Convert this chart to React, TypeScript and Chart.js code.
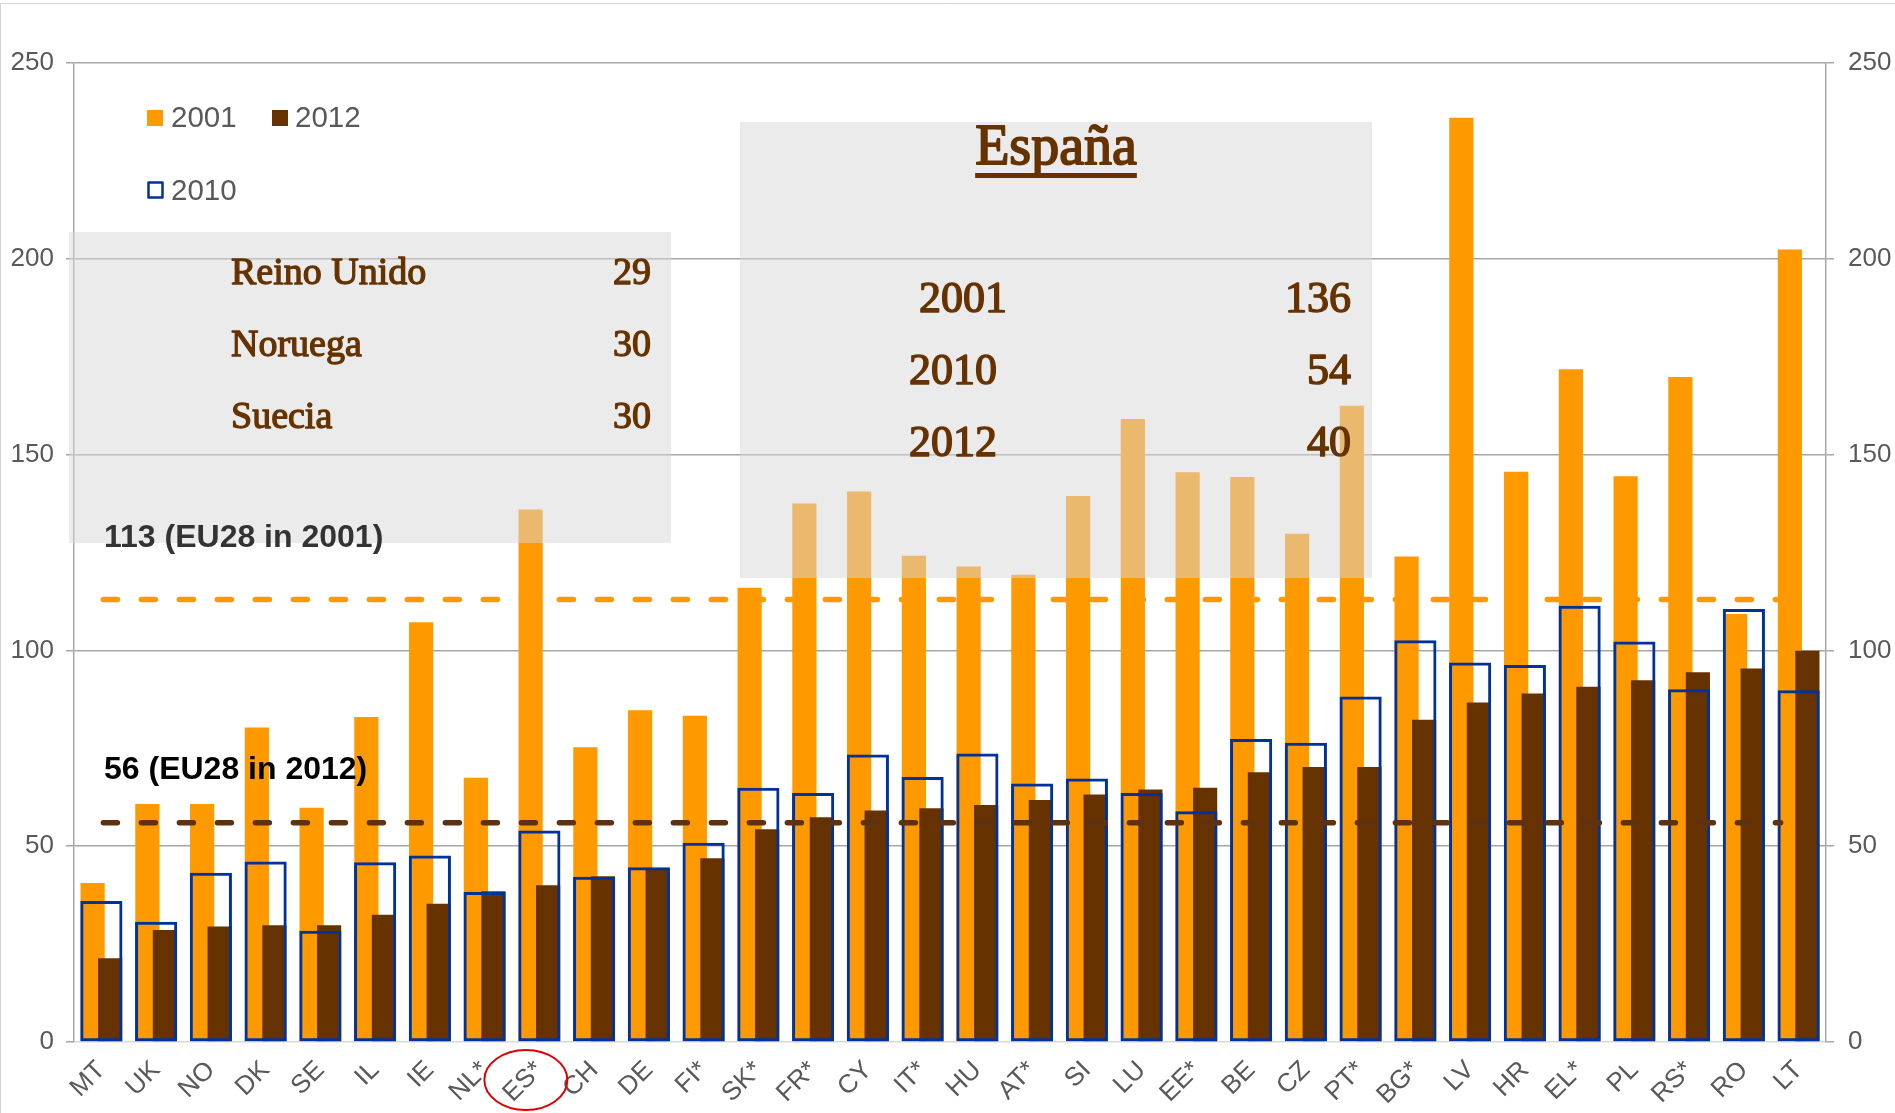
import React, { useEffect, useRef } from 'react';
import { Chart, registerables } from 'chart.js';

Chart.register(...registerables);

const categories = ['MT', 'UK', 'NO', 'DK', 'SE', 'IL', 'IE', 'NL*', 'ES*', 'CH', 'DE', 'FI*', 'SK*', 'FR*', 'CY', 'IT*', 'HU', 'AT*', 'SI', 'LU', 'EE*', 'BE', 'CZ', 'PT*', 'BG*', 'LV', 'HR', 'EL*', 'PL', 'RS*', 'RO', 'LT'];
const values2001 = [40.6, 60.8, 60.8, 80.3, 59.8, 83.0, 107.2, 67.5, 136, 75.3, 84.7, 83.3, 116.0, 137.5, 140.6, 124.2, 121.4, 119.3, 139.4, 159.1, 145.5, 144.3, 129.8, 162.5, 124.0, 236.0, 145.6, 171.8, 144.5, 169.8, 109.3, 202.4];
const values2010 = [36.0, 30.7, 43.2, 46.1, 28.4, 45.9, 47.6, 38.3, 54, 42.2, 44.6, 50.9, 64.9, 63.6, 73.4, 67.7, 73.7, 66.0, 67.3, 63.6, 58.9, 77.4, 76.4, 88.2, 102.6, 96.9, 96.3, 111.4, 102.3, 90.1, 110.6, 89.8];
const values2012 = [21.4, 28.6, 29.5, 29.8, 29.8, 32.5, 35.3, 38.5, 40, 42.3, 44.0, 46.9, 54.3, 57.4, 59.1, 59.7, 60.5, 61.8, 63.2, 64.5, 64.9, 68.9, 70.2, 70.2, 82.3, 86.7, 89.0, 90.7, 92.4, 94.4, 95.4, 99.9];
const eu2001 = 113;
const eu2012 = 56;
const yTicks = [0, 50, 100, 150, 200, 250];
const lowestRows = [
  ['Reino Unido', '29'],
  ['Noruega', '30'],
  ['Suecia', '30'],
];
const spainRows = [
  ['2001', '136'],
  ['2010', '54'],
  ['2012', '40'],
];
const highlighted = 'ES*';

const SANS = "'Liberation Sans', Arial, sans-serif";
const SERIF = "'Liberation Serif', 'Times New Roman', serif";
const ORANGE = '#FF9900';
const BROWN = '#663300';
const BLUE = '#003399';
const GREY_TEXT = '#595959';
const BOX = 'rgba(216,216,216,0.51)';

function text(ctx: CanvasRenderingContext2D, s: string, x: number, y: number, font: string, color: string, align: CanvasTextAlign = 'left', thicken = 0) {
  ctx.font = font;
  ctx.fillStyle = color;
  ctx.textAlign = align;
  ctx.textBaseline = 'alphabetic';
  ctx.fillText(s, x, y);
  if (thicken > 0) {
    ctx.strokeStyle = color;
    ctx.lineWidth = thicken;
    ctx.lineJoin = 'round';
    ctx.strokeText(s, x, y);
  }
}

function drawAnnotations(chart: any) {
  const ctx: CanvasRenderingContext2D = chart.ctx;
  const xs = chart.scales.x;
  const ys = chart.scales.y;
  ctx.save();

  // EU28 dashed reference lines
  const x0 = xs.getPixelForValue(0) + 2;
  const x1 = xs.getPixelForValue(categories.length - 1) - 18;
  const dash = (v: number, color: string) => {
    const y = ys.getPixelForValue(v);
    ctx.beginPath();
    ctx.setLineDash([14, 24]);
    ctx.lineCap = 'round';
    ctx.lineWidth = 5.5;
    ctx.strokeStyle = color;
    ctx.moveTo(x0, y);
    ctx.lineTo(x1, y);
    ctx.stroke();
  };
  dash(eu2001, ORANGE);
  dash(eu2012, '#5E3210');
  ctx.setLineDash([]);
  ctx.lineCap = 'butt';

  // grey boxes
  ctx.fillStyle = BOX;
  ctx.fillRect(69, 232, 602, 311);
  ctx.fillRect(740, 122, 632, 456);

  // box 1 texts
  lowestRows.forEach(([name, val], i) => {
    const by = 284 + i * 72;
    text(ctx, name, 231, by, `38px ${SERIF}`, BROWN, 'left', 1.3);
    text(ctx, val, 651, by, `38px ${SERIF}`, BROWN, 'right', 1.3);
  });

  // box 2 texts
  const title = 'España';
  text(ctx, title, 1056, 164, `56px ${SERIF}`, BROWN, 'center', 1.8);
  ctx.font = `56px ${SERIF}`;
  const tw = ctx.measureText(title).width;
  ctx.fillStyle = BROWN;
  ctx.fillRect(1056 - tw / 2, 173, tw, 5);
  spainRows.forEach(([yr, val], i) => {
    const by = 312 + i * 72;
    text(ctx, yr, i === 0 ? 919 : 909, by, `44px ${SERIF}`, BROWN, 'left', 1.5);
    text(ctx, val, 1351, by, `44px ${SERIF}`, BROWN, 'right', 1.5);
  });

  // EU28 labels
  text(ctx, `${eu2001} (EU28 in 2001)`, 104, 547, `bold 32px ${SANS}`, '#333333', 'left');
  text(ctx, `${eu2012} (EU28 in 2012)`, 104, 779, `bold 32px ${SANS}`, '#000000', 'left');

  // legend
  ctx.fillStyle = ORANGE;
  ctx.fillRect(147, 110, 16, 16);
  text(ctx, '2001', 171, 127, `29.5px ${SANS}`, GREY_TEXT, 'left');
  ctx.fillStyle = BROWN;
  ctx.fillRect(272, 110, 16, 16);
  text(ctx, '2012', 295, 127, `29.5px ${SANS}`, GREY_TEXT, 'left');
  ctx.strokeStyle = BLUE;
  ctx.lineWidth = 2.5;
  ctx.strokeRect(148.5, 182.5, 14, 15);
  text(ctx, '2010', 171, 200, `29.5px ${SANS}`, GREY_TEXT, 'left');

  // red ellipse around highlighted label
  const ex = xs.getPixelForValue(categories.indexOf(highlighted)) - 13.5;
  ctx.beginPath();
  ctx.ellipse(ex, 1080, 41.5, 30, 0, 0, Math.PI * 2);
  ctx.strokeStyle = '#E00000';
  ctx.lineWidth = 2;
  ctx.stroke();

  // frame
  ctx.strokeStyle = '#D4D4D4';
  ctx.lineWidth = 1;
  ctx.beginPath();
  ctx.moveTo(0, 3.5);
  ctx.lineTo(chart.width, 3.5);
  ctx.moveTo(0.5, 3.5);
  ctx.lineTo(0.5, chart.height);
  ctx.stroke();

  ctx.restore();
}

const layerPlugin = {
  id: 'layerPlugin',
  beforeDatasetsDraw(chart: any) {
    [0, 1, 2].forEach((i) => {
      const meta = chart.getDatasetMeta(i);
      if (meta.visible) meta.controller.draw();
    });
    drawAnnotations(chart);
    return false;
  },
};

export default function App() {
  const ref = useRef<HTMLCanvasElement | null>(null);

  useEffect(() => {
    if (!ref.current) return;
    const axisTicks = { color: GREY_TEXT, font: { family: SANS, size: 26 } };
    const chart = new Chart(ref.current, {
      type: 'bar',
      data: {
        labels: categories,
        datasets: [
          {
            label: '2001',
            data: values2001,
            backgroundColor: ORANGE,
            borderWidth: 0,
            barPercentage: 1.38,
            categoryPercentage: 0.64,
          },
          {
            label: '2012',
            data: values2012,
            backgroundColor: BROWN,
            borderWidth: 0,
            barPercentage: 1.38,
            categoryPercentage: 0.64,
          },
          {
            label: '2010',
            data: values2010,
            backgroundColor: 'rgba(0,0,0,0)',
            borderColor: BLUE,
            borderWidth: 3,
            borderSkipped: false,
            grouped: false,
            barPercentage: 0.77,
            categoryPercentage: 1,
          },
        ] as any,
      },
      options: {
        animation: false,
        responsive: false,
        maintainAspectRatio: false,
        events: [],
        layout: { padding: { top: 63, left: 0, right: 0, bottom: 0 } },
        plugins: { legend: { display: false }, tooltip: { enabled: false } },
        scales: {
          x: {
            type: 'category',
            offset: true,
            grid: { display: false },
            border: { display: false },
            ticks: { ...axisTicks, maxRotation: 45, minRotation: 45, padding: 5, autoSkip: false },
            afterFit: (s: any) => { s.height = 71; },
          },
          y: {
            position: 'left',
            min: 0,
            max: 250,
            afterBuildTicks: (s: any) => { s.ticks = yTicks.map((v) => ({ value: v })); },
            ticks: { ...axisTicks, padding: 12 },
            grid: {
              color: (c: any) => (c.tick && c.tick.value === 0 ? '#D9D9D9' : '#A6A6A6'),
              lineWidth: 1.5,
              tickLength: 8,
              tickColor: '#A6A6A6',
            },
            border: { display: true, color: '#A6A6A6', width: 1.5 },
            afterFit: (s: any) => { s.width = 74; },
          },
          y2: {
            position: 'right',
            min: 0,
            max: 250,
            afterBuildTicks: (s: any) => { s.ticks = yTicks.map((v) => ({ value: v })); },
            ticks: { ...axisTicks, padding: 14 },
            grid: { drawOnChartArea: false, tickLength: 8, color: '#A6A6A6', lineWidth: 1.5 },
            border: { display: true, color: '#A6A6A6', width: 1.5 },
            afterFit: (s: any) => { s.width = 69; },
          },
        } as any,
      },
      plugins: [layerPlugin],
    } as any);
    return () => chart.destroy();
  }, []);

  return (
    <div style={{ position: 'absolute', left: 0, top: 0, width: 1895, height: 1113, background: '#ffffff', overflow: 'hidden' }}>
      <canvas ref={ref} width={1895} height={1113} style={{ display: 'block', width: 1895, height: 1113 }} />
    </div>
  );
}
